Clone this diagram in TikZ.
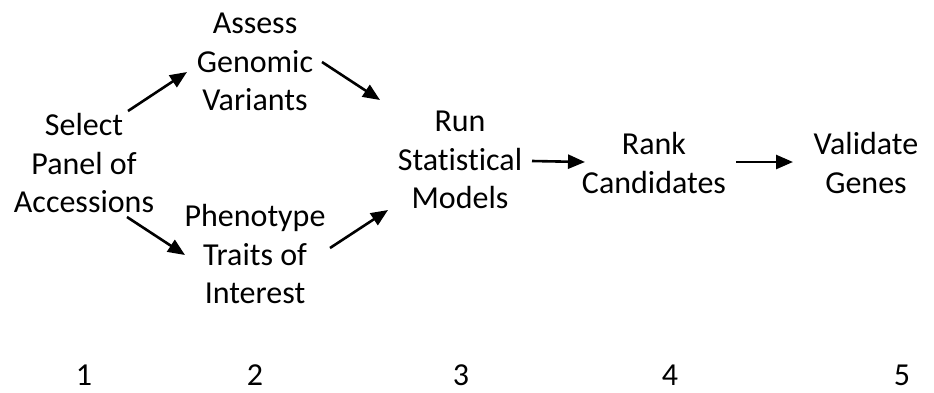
\documentclass[tikz,border=0pt]{standalone}
\usepackage{fontspec}
\setmainfont{Carlito}[Ligatures=NoCommon]
\usetikzlibrary{arrows.meta,positioning}

\begin{document}
\begin{tikzpicture}[x=1pt,y=-1pt,
	step box/.style={align=center,inner sep=0pt,font=\fontsize{32}{38.5}\selectfont},
	num/.style={inner sep=0pt,font=\fontsize{32}{38}\selectfont},
	flow/.style={line width=2.6pt,-{Triangle[length=17pt,width=14pt]}}]
			\useasboundingbox (0,0) rectangle (934,392);
			% steps
			\node [step box] (sel) at (84,163) {Select\\Panel of\\Accessions};
			\node [step box] (assess) at (255,62) {Assess\\Genomic\\Variants};
			\node [step box] (pheno) at (255,254) {Phenotype\\Traits of\\Interest};
			\node [step box] (run) at (460,160) {Run\\Statistical\\Models};
			\node [step box] (rank) at (654,163) {Rank\\Candidates};
			\node [step box] (valid) at (866,163) {Validate\\Genes};
			% step numbers
			\node [num] (n1) at (84,375) {1};
			\node [num] (n2) at (255,375) {2};
			\node [num] (n3) at (461,375) {3};
			\node [num] (n4) at (670,375) {4};
			\node [num] (n5) at (902,375) {5};
			% arrows
			\draw [flow] ([shift={(44,-52)}]sel.center) -- ([shift={(-68,10)}]assess.center);
			\draw [flow] ([shift={(43,54)}]sel.center) -- ([shift={(-70,1)}]pheno.center);
			\draw [flow] ([shift={(67,0)}]assess.center) -- ([shift={(-80,-60)}]run.center);
			\draw [flow] ([shift={(75,-6)}]pheno.center) -- ([shift={(-72,50)}]run.center);
			\draw [flow] ([shift={(72,1)}]run.center) -- ([shift={(-69,-1)}]rank.center);
			\draw [flow] ([shift={(82,-1)}]rank.center) -- ([shift={(-73,-1)}]valid.center);
\end{tikzpicture}
\end{document}
